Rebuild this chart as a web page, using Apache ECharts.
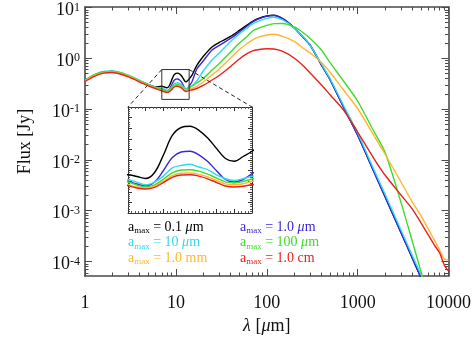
<!DOCTYPE html>
<html><head><meta charset="utf-8">
<script src="https://cdn.jsdelivr.net/npm/echarts@6/dist/echarts.min.js"></script>
<style>html,body{margin:0;padding:0;background:#fff}#c{width:474px;height:355px}</style>
</head><body><div id="c"></div>
<script>
// ---------------- data ----------------
const wavelengths = [1,1.3,1.6,2,2.5,3,3.5,4,5,6,
  7,7.5,8,8.5,9,9.5,10,10.5,11,11.5,12,12.5,13,13.5,14,
  15,17,20,25,30,40,50,60,70,80,100,120,150,200,250,300,400,500,700,1000,1500,2000,3000,4000,5000,7000,8000,9000,10000];

const flux_0p1um = [0.365,0.47,0.53,0.545,0.505,0.452,0.402,0.358,0.303,0.272,
  0.2807,0.2722,0.2627,0.291,0.3736,0.4656,0.5033,0.509,0.4901,0.4538,0.4042,0.3571,0.3439,0.3665,0.391,
  0.459,0.721,1.085,1.669,2.046,2.686,3.526,4.423,5.302,5.99,6.80,7.02,6.0,4.0,2.63,1.83,0.738,0.374,0.110,0.0309,0.00605,0.0019,3.72e-4,1.17e-4,4.73e-5,1.23e-5,7.2e-6,4.5e-6,2.96e-6];
const flux_1um = [0.368,0.475,0.535,0.55,0.51,0.452,0.40,0.355,0.298,0.263,
  0.2495,0.2368,0.2274,0.2458,0.3005,0.3613,0.3877,0.391,0.3745,0.3425,0.2991,0.258,0.2462,0.258,0.2854,
  0.34,0.616,0.885,1.457,1.786,2.454,3.294,4.227,5.183,5.885,6.74,6.96,5.95,3.98,2.6,1.8,0.735,0.372,0.109,0.0307,0.006,0.00189,3.7e-4,1.16e-4,4.7e-5,1.22e-5,7.1e-6,4.4e-6,2.9e-6];
const flux_10um = [0.378,0.488,0.55,0.565,0.523,0.465,0.412,0.365,0.306,0.268,
  0.2571,0.2455,0.2330,0.2460,0.2740,0.3130,0.3240,0.3300,0.3170,0.3050,0.2795,0.2615,0.2530,0.2615,0.2731,
  0.285,0.357,0.5623,0.926,1.271,2.142,3.008,3.86,4.733,5.302,6.075,6.413,5.675,3.95,2.65,1.82,0.772,0.391,0.1177,0.0338,0.00662,0.00213,4.17e-4,1.31e-4,5.43e-5,1.41e-5,8.3e-6,5.2e-6,3.4e-6];
const flux_100um = [0.372,0.48,0.542,0.557,0.515,0.458,0.405,0.36,0.3,0.262,
  0.2462,0.2321,0.2226,0.2325,0.2594,0.2896,0.3028,0.3042,0.2972,0.2835,0.2646,0.2467,0.2415,0.2486,0.2604,
  0.285,0.3265,0.4002,0.5884,0.79,1.331,2.001,2.627,3.446,3.86,4.423,4.799,4.842,4.132,3.22,2.454,1.457,0.808,0.357,0.1443,0.0371,0.0143,0.001463,2.487e-4,6.21e-5,7.87e-6,3.5e-6,1.7e-6,8e-7];
const flux_1mm = [0.36,0.464,0.523,0.537,0.497,0.443,0.392,0.348,0.293,0.256,
  0.2335,0.2226,0.2179,0.2264,0.2495,0.2759,0.2873,0.2887,0.2825,0.2703,0.2538,0.2377,0.2335,0.2377,0.2495,
  0.2543,0.2786,0.3416,0.469,0.616,1.014,1.49,1.912,2.292,2.568,2.875,2.968,2.686,2.142,1.595,1.271,0.827,0.5254,0.2377,0.1027,0.0309,0.01306,0.003673,0.001483,7.86e-4,2.65e-4,1.684e-4,1.12e-4,1.07e-4];
const flux_1cm = [0.35,0.452,0.51,0.524,0.485,0.432,0.383,0.34,0.287,0.252,
  0.2288,0.2179,0.2132,0.2212,0.2434,0.2684,0.2792,0.2807,0.2741,0.2613,0.2439,0.2274,0.2226,0.2259,0.2335,
  0.2377,0.2543,0.2915,0.374,0.4586,0.69,0.969,1.215,1.392,1.47,1.538,1.524,1.361,1.014,0.7215,0.5136,0.298,0.1895,0.096,0.0354,0.0109,0.00504,0.002037,0.00108,5.73e-4,2.113e-4,1.47e-4,8.53e-5,6.5e-5];

const seriesFlux = [flux_0p1um, flux_1um, flux_10um, flux_100um, flux_1mm, flux_1cm];
const legendValues = ['0.1', '1.0', '10', '100', '1.0', '1.0'];
const legendUnits = ['μm', 'μm', 'μm', 'μm', 'mm', 'cm'];
const seriesColors = ['#000000', '#3a28d8', '#2fd9ef', '#3fdc2a', '#ffb62e', '#e8211c'];

const xTickLabels = ['1', '10', '100', '1000', '10000'];
const xMajorExp = [0, 1, 2, 3, 4];
const yMajorExp = [-4, -3, -2, -1, 0, 1];

const xMin = 1, xMax = 10000, yMin = 5.2e-5, yMax = 10.2;
const insetX = [7, 14], insetY = [0.1, 0.6];
const zoomBoxY = [0.155, 0.6];

// ---------------- chart ----------------
const FONT = '"Liberation Serif","DejaVu Serif",serif';
const AX = '#4a4a4a';
const chart = echarts.init(document.getElementById('c'), null, {renderer: 'canvas', width: 474, height: 355});

const lx0 = Math.log10(xMin), lx1 = Math.log10(xMax), ly0 = Math.log10(yMin), ly1 = Math.log10(yMax);
function minorExps(lo, hi) {
  const out = [];
  for (let d = Math.floor(lo); d < Math.ceil(hi); d++) {
    for (let k = 2; k <= 9; k++) { const v = d + Math.log10(k); if (v > lo && v < hi) out.push(v); }
  }
  return out;
}
const xMinor = minorExps(lx0, lx1), yMinor = minorExps(ly0, ly1);

function deco(dim, position, major, showLine, tickLen, ticks, labels) {
  const lo = dim === 'x' ? lx0 : ly0, hi = dim === 'x' ? lx1 : ly1;
  const a = {
    gridIndex: 0, type: 'value', min: lo, max: hi, position: position,
    axisLine: {show: showLine, onZero: false, lineStyle: {color: AX, width: 1.6}},
    axisTick: {show: true, inside: true, length: tickLen, customValues: ticks, lineStyle: {color: AX, width: 1}},
    axisLabel: {show: false},
    splitLine: {show: false}, minorTick: {show: false}
  };
  if (labels) a.axisLabel = labels;
  return a;
}

const supRich = {
  b: {fontFamily: FONT, fontSize: 18, color: '#111', lineHeight: 18, verticalAlign: 'bottom'},
  s: {fontFamily: FONT, fontSize: 12, color: '#111', lineHeight: 12, verticalAlign: 'top', padding: [0, 0, 9, 0]}
};

const xAxes = [
  {gridIndex: 0, type: 'log', min: xMin, max: xMax, show: false},
  Object.assign(deco('x', 'bottom', true, true, 7, xMajorExp, {
    show: true, customValues: xMajorExp, margin: 18, fontFamily: FONT, fontSize: 18, color: '#111',
    formatter: v => xTickLabels[xMajorExp.indexOf(Math.round(v))] || ''
  }), {
    name: '{i|λ} [{i|μ}m]', nameLocation: 'middle', nameGap: 37,
    nameTextStyle: {fontFamily: FONT, fontSize: 18, color: '#111',
      rich: {i: {fontFamily: FONT, fontSize: 18, fontStyle: 'italic', color: '#111'}}}
  }),
  deco('x', 'bottom', false, false, 3.5, xMinor),
  deco('x', 'top', true, true, 7, xMajorExp),
  deco('x', 'top', false, false, 3.5, xMinor)
];
const yAxes = [
  {gridIndex: 0, type: 'log', min: yMin, max: yMax, show: false},
  Object.assign(deco('y', 'left', true, true, 7, yMajorExp, {
    show: true, customValues: yMajorExp, margin: 5, padding: [6, 0, 0, 0],
    formatter: v => '{b|10}{s|' + Math.round(v) + '}', rich: supRich
  }), {
    name: 'Flux [Jy]', nameLocation: 'middle', nameGap: 51,
    nameTextStyle: {fontFamily: FONT, fontSize: 18, color: '#111'}
  }),
  deco('y', 'left', false, false, 3.5, yMinor),
  deco('y', 'right', true, true, 7, yMajorExp),
  deco('y', 'right', false, false, 3.5, yMinor)
];

function insetAxis(position, isX) {
  return {
    gridIndex: 1, type: 'value', position: position, z: 11,
    min: isX ? insetX[0] : insetY[0], max: isX ? insetX[1] : insetY[1], interval: isX ? 1 : 0.05,
    axisLine: {show: true, onZero: false, lineStyle: {color: '#333', width: 1}},
    axisTick: {show: true, inside: true, length: 4, lineStyle: {color: '#333', width: 1}},
    minorTick: {show: true, splitNumber: 5, length: 2, lineStyle: {color: '#555', width: 1}},
    axisLabel: {show: false}, splitLine: {show: false}
  };
}
xAxes.push(insetAxis('bottom', true), insetAxis('top', true));
yAxes.push(insetAxis('left', false), insetAxis('right', false));
const INSET_X = 5, INSET_Y = 5;

const series = [];
seriesFlux.forEach((f, i) => {
  const name = 'a_max = ' + legendValues[i] + ' ' + legendUnits[i];
  series.push({
    name: name, type: 'line', xAxisIndex: 0, yAxisIndex: 0, z: 2,
    data: wavelengths.map((w, j) => [w, f[j]]),
    showSymbol: false, symbol: 'none', smooth: 0.25, clip: true,
    lineStyle: {color: seriesColors[i], width: 1.4}
  });
});
seriesFlux.forEach((f, i) => {
  const pts = [];
  wavelengths.forEach((w, j) => { if (w >= 6 && w <= 15) pts.push([w, f[j]]); });
  series.push({
    name: 'inset ' + i, type: 'line', xAxisIndex: INSET_X, yAxisIndex: INSET_Y, z: 12,
    data: pts, showSymbol: false, symbol: 'none', smooth: 0.35, clip: true,
    lineStyle: {color: seriesColors[i], width: 1.4}
  });
});

chart.setOption({
  animation: false,
  backgroundColor: '#ffffff',
  grid: [
    {left: 85, right: 23, top: 7, bottom: 79, containLabel: false},
    {left: 128, top: 107, width: 124, height: 106, show: true, backgroundColor: '#ffffff', borderWidth: 0, z: 10}
  ],
  xAxis: xAxes,
  yAxis: yAxes,
  series: series
});

// ---------- annotations: legend, zoom box, connectors ----------
const graphics = [];
const legendLeft = [128, 240], legendTop = 227, legendRow = 15.5;
seriesFlux.forEach((f, i) => {
  const c = seriesColors[i];
  const unit = legendUnits[i] === 'μm' ? '{i|μ}{a|m}' : '{a|' + legendUnits[i] + '}';
  graphics.push({
    type: 'text', z: 100,
    x: legendLeft[i % 2], y: legendTop + Math.floor(i / 2) * legendRow,
    style: {
      text: '{a|a}{s|max}{a| = ' + legendValues[i] + ' }' + unit,
      fill: c, font: '14px ' + FONT, verticalAlign: 'middle', align: 'left',
      rich: {
        a: {fontFamily: FONT, fontSize: 14, fill: c, lineHeight: 14},
        s: {fontFamily: FONT, fontSize: 9, fill: c, lineHeight: 9, padding: [8, 0, 0, 0]},
        i: {fontFamily: FONT, fontSize: 14, fontStyle: 'italic', fill: c, lineHeight: 14}
      }
    }
  });
});

const mainFinder = {xAxisIndex: 0, yAxisIndex: 0};
const insetFinder = {xAxisIndex: INSET_X, yAxisIndex: INSET_Y};
const bTL = chart.convertToPixel(mainFinder, [insetX[0], zoomBoxY[1]]);
const bBR = chart.convertToPixel(mainFinder, [insetX[1], zoomBoxY[0]]);
const iTL = chart.convertToPixel(insetFinder, [insetX[0], insetY[1]]);
const iTR = chart.convertToPixel(insetFinder, [insetX[1], insetY[1]]);
graphics.push({
  type: 'rect', z: 50, silent: true,
  shape: {x: bTL[0], y: bTL[1], width: bBR[0] - bTL[0], height: bBR[1] - bTL[1]},
  style: {fill: 'none', stroke: '#333', lineWidth: 1}
});
graphics.push({
  type: 'line', z: 50, silent: true,
  shape: {x1: bTL[0], y1: bTL[1], x2: iTL[0], y2: iTL[1]},
  style: {stroke: '#222', lineWidth: 1, lineDash: [4, 3]}
});
graphics.push({
  type: 'line', z: 50, silent: true,
  shape: {x1: bBR[0], y1: bTL[1], x2: iTR[0], y2: iTR[1]},
  style: {stroke: '#222', lineWidth: 1, lineDash: [4, 3]}
});
chart.setOption({graphic: graphics});
</script>
</body></html>
